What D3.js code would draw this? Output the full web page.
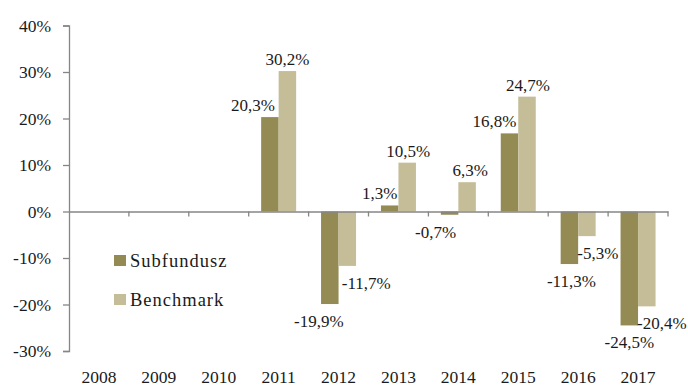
<!DOCTYPE html>
<html>
<head>
<meta charset="utf-8">
<script src="https://cdn.jsdelivr.net/npm/d3@7"></script>
<style>
  html, body { margin: 0; padding: 0; background: #fff; }
  svg text { font-family: "Liberation Serif", "Times New Roman", serif; fill: #1a1a1a; }
</style>
</head>
<body>
<svg id="chart" width="688" height="387"></svg>
<script>
// Annual returns, %
const years = ["2008", "2009", "2010", "2011", "2012", "2013", "2014", "2015", "2016", "2017"];
const subfundusz = [null, null, null, 20.3, -19.9, 1.3, -0.7, 16.8, -11.3, -24.5];
const benchmark  = [null, null, null, 30.2, -11.7, 10.5, 6.3, 24.7, -5.3, -20.4];
const seriesNames = ["Subfundusz", "Benchmark"];
const yTicks = [-30, -20, -10, 0, 10, 20, 30, 40];

// Label nudges (px) relative to the default spot beside each bar end
const subLabelDx   = [0, 0, 0, -17, -11, -10, -14, -15, 2, 0];
const benchLabelDx = [0, 0, 0, 0, 19, 1, 3, 1, 11, 15];

const colors = ["#948a54", "#c4bd97"];
const axisColor = "#868686";

const svg = d3.select("#chart");

const x = d3.scaleBand().domain(years).range([69, 668]).paddingInner(0).paddingOuter(0);
const y = d3.scaleLinear().domain([-30, 40]).range([351, 25.5]);
const barW = 17.5;
// Polish decimal comma, plain hyphen for negatives
const fmt = v => d3.format(".1f")(v).replace(".", ",").replace("\u2212", "-") + "%";

// y axis
const yAxis = d3.axisLeft(y).tickValues(yTicks).tickSize(6).tickPadding(12).tickFormat(d => d + "%");
const gy = svg.append("g").attr("transform", "translate(69,0)").call(yAxis);
gy.select(".domain").attr("stroke", axisColor).attr("stroke-width", 1.3);
gy.selectAll(".tick line").attr("stroke", axisColor).attr("stroke-width", 1.3);
gy.selectAll(".tick text").attr("font-size", 17.5).attr("font-family", "Liberation Serif").attr("fill", "#1a1a1a");

// bars
const data = years.map((yr, i) => ({ yr, i, s: subfundusz[i], b: benchmark[i] }));
const bars = svg.append("g");
data.forEach(d => {
  const c = x(d.yr) + x.bandwidth() / 2;
  [d.s, d.b].forEach((v, k) => {
    if (v == null) return;
    bars.append("rect")
      .attr("x", c - barW + k * barW)
      .attr("width", barW)
      .attr("y", Math.min(y(v), y(0)))
      .attr("height", Math.abs(y(v) - y(0)))
      .attr("fill", colors[k]);
  });
});

// zero line with category ticks
const gx = svg.append("g").attr("transform", `translate(0,${y(0)})`)
  .call(d3.axisBottom(x).tickValues([]).tickSizeOuter(0));
gx.select(".domain").attr("stroke", axisColor).attr("stroke-width", 1.3);
const boundaries = years.map(yr => x(yr)).concat([x.range()[1]]).slice(1);
gx.selectAll("line.sep").data(boundaries).enter().append("line")
  .attr("x1", d => d).attr("x2", d => d).attr("y1", 0).attr("y2", 5)
  .attr("stroke", axisColor).attr("stroke-width", 1.3);

// year labels along the bottom
svg.append("g").selectAll("text").data(years).enter().append("text")
  .attr("x", d => x(d) + x.bandwidth() / 2)
  .attr("y", 383)
  .attr("text-anchor", "middle")
  .attr("font-size", 17.5)
  .text(d => d);

// value labels
const labels = svg.append("g").attr("font-size", 17);
data.forEach(d => {
  const c = x(d.yr) + x.bandwidth() / 2;
  [[d.s, subLabelDx[d.i], c - barW / 2], [d.b, benchLabelDx[d.i], c + barW / 2]].forEach(([v, dx, bc]) => {
    if (v == null) return;
    const yy = v >= 0 ? y(v) - 12 : y(v) + 17;
    labels.append("text")
      .attr("x", bc + dx)
      .attr("y", yy)
      .attr("dy", "0.35em")
      .attr("text-anchor", "middle")
      .text(fmt(v));
  });
});

// legend
const lg = svg.append("g").attr("transform", "translate(114,255)");
seriesNames.forEach((n, k) => {
  const row = lg.append("g").attr("transform", `translate(0,${k * 39})`);
  row.append("rect").attr("width", 12).attr("height", 11).attr("fill", colors[k]);
  row.append("text").attr("x", 16).attr("y", 11.5).attr("font-size", 18.5)
    .attr("letter-spacing", 1).text(n);
});
</script>
</body>
</html>
